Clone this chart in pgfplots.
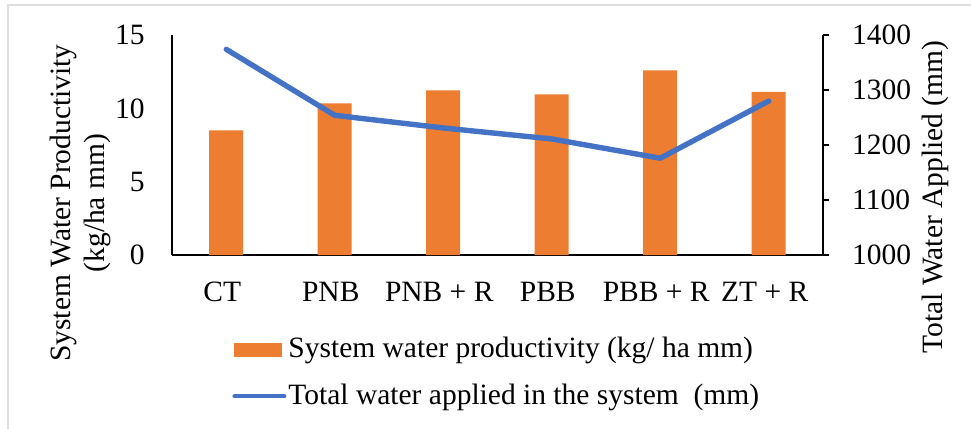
\documentclass[border=0pt]{standalone}
\usepackage{pgfplots}
\pgfplotsset{compat=1.18}
\usepackage{fontspec}
\setmainfont{Liberation Serif}
\definecolor{barC}{HTML}{ED7D31}
\definecolor{lineC}{HTML}{4472C4}
\begin{document}
\fontsize{14.75}{17.2}\selectfont
\begin{tikzpicture}
\useasboundingbox (-86pt,-87pt) rectangle (399.5pt,127.5pt);
\draw[black!13, line width=0.8pt] (-82pt,-90pt) -- (-82pt,125pt) -- (402pt,125pt);
\pgfplotsset{
  every axis/.append style={
    at={(0pt,0pt)}, anchor=south west, scale only axis,
    width=325.5pt, height=110pt,
    xmin=-0.5, xmax=5.5,
    /pgf/number format/assume math mode=true,
    /pgf/number format/1000 sep={},
    axis line style={line width=0.8pt, black},
    tick style={line width=0.8pt, black},
    tick label style={font=\fontsize{14.75}{17.2}\selectfont},
    label style={font=\fontsize{14.75}{17.2}\selectfont},
  }
}
\begin{axis}[
  axis y line*=left, axis x line*=bottom,
  ymin=0, ymax=15, ytick={0,5,10,15},
  xtick={0,1,2,3,4,5},
  xticklabels={CT,PNB,PNB + R,PBB,PBB + R,ZT + R},
  major tick length=0pt,
  yticklabel style={xshift=-8.6pt},
  xticklabel style={yshift=-8.4pt, xshift=-2pt},
  ylabel={System Water Productivity\\(kg/ha mm)},
  ylabel style={align=center, at={(axis description cs:-0.141,0.236)}, anchor=center},
]
\addplot[ybar, bar width=17pt, fill=barC, draw=none] coordinates {
  (0,8.50) (1,10.33) (2,11.22) (3,10.96) (4,12.58) (5,11.13)
};
\end{axis}
\begin{axis}[
  axis y line*=right, axis x line=none,
  ymin=1000, ymax=1400, ytick={1000,1100,1200,1300,1400},
  tick align=outside, major tick length=3pt,
  yticklabel style={xshift=6.5pt},
  ylabel={Total Water Applied (mm)},
  ylabel style={at={(axis description cs:1.172,0.264)}, anchor=center},
  legend style={at={(axis description cs:0.083,-0.335)}, anchor=north west,
    draw=none, fill=none, row sep=7pt,
    nodes={inner xsep=1pt, font=\fontsize{14.75}{17.2}\selectfont}},
  legend cell align=left,
]
\addlegendimage{legend image code/.code={\fill[barC] (0pt,-3.25pt) rectangle (23.5pt,3.25pt);}}
\addlegendentry{System water productivity (kg/ ha mm)}
\addplot[lineC, line width=2.7pt, line join=round, line cap=round,
  legend image code/.code={\draw[lineC, line width=2pt, line cap=round] (0pt,0pt) -- (25pt,0pt);}]
  coordinates {
  (0,1374) (1,1254) (2,1231) (3,1211) (4,1176) (5,1280)
};
\addlegendentry{Total water applied in the system\ \ (mm)}
\end{axis}
\end{tikzpicture}
\end{document}
